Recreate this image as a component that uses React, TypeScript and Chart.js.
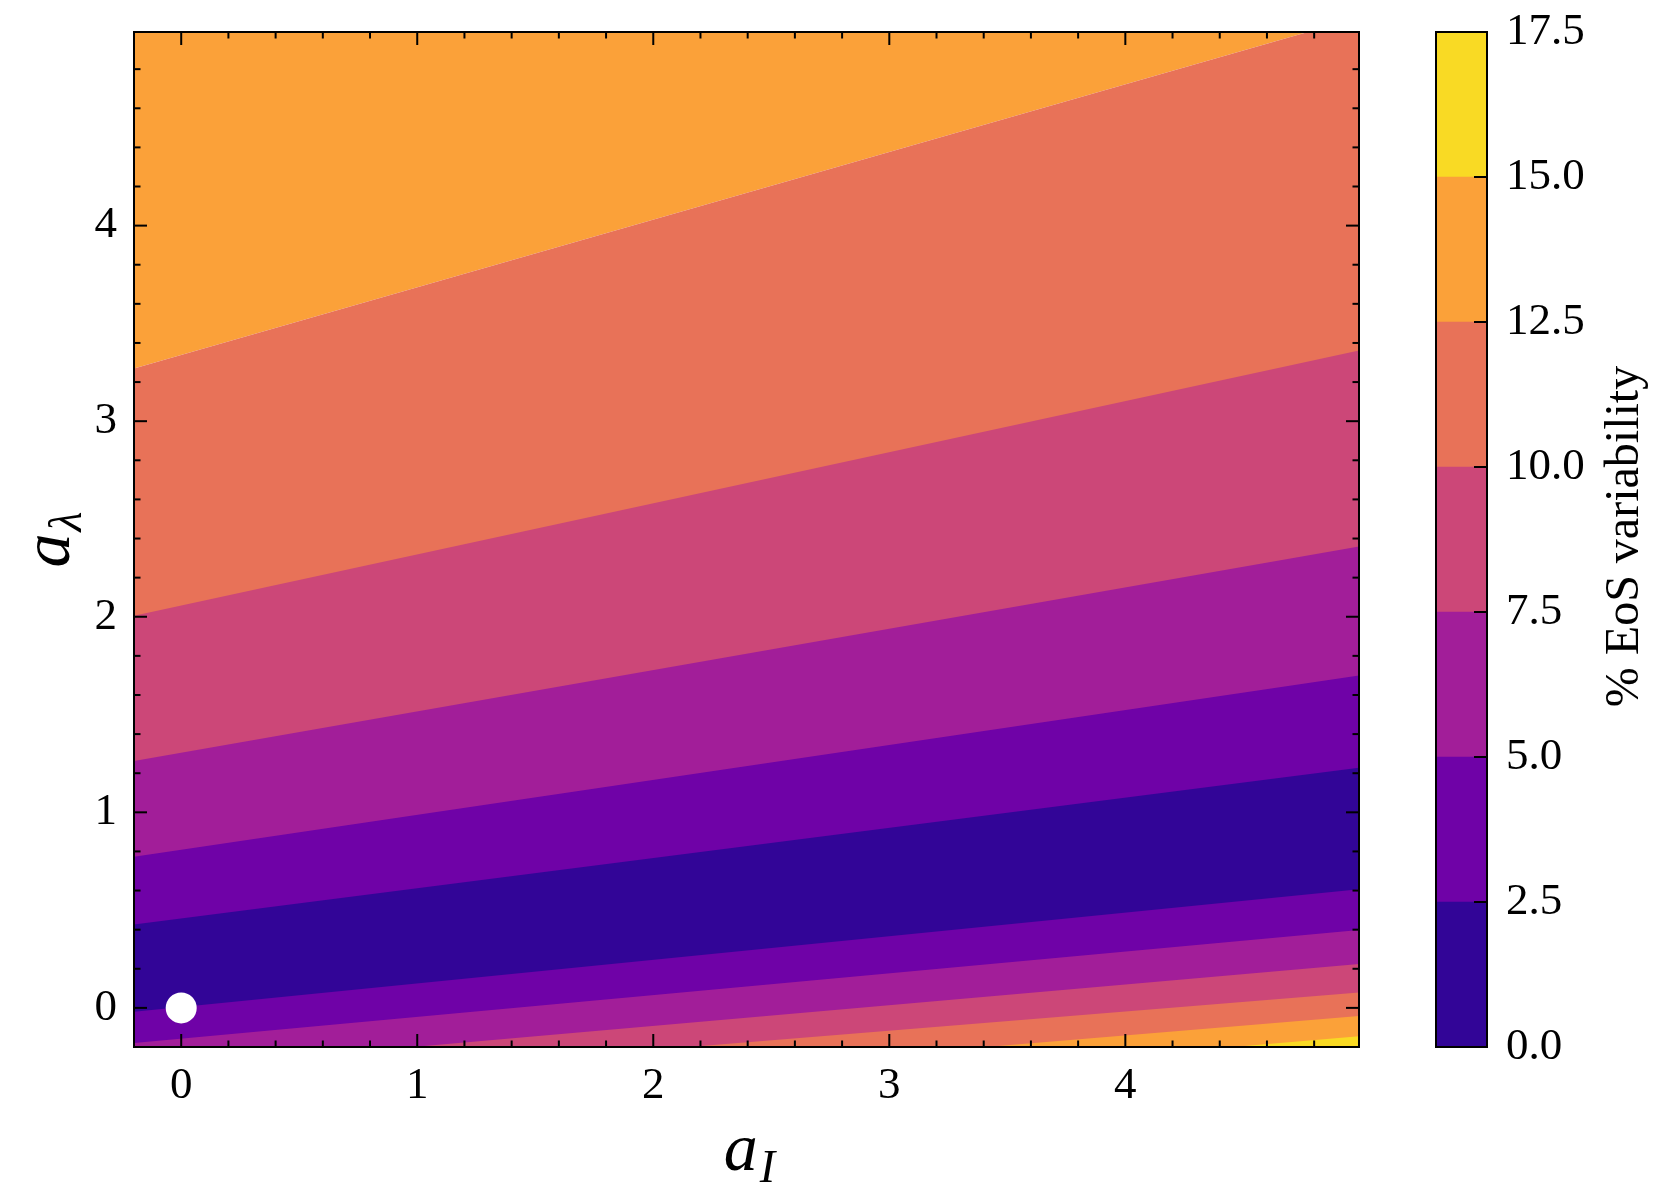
import { useEffect, useRef } from 'react';
import { Chart, registerables } from 'chart.js';

Chart.register(...registerables);

// ---- data ----
// contour boundary lines, evaluated at the two ends of the a_I range
const aI = [-0.2, 4.99];
const upper125 = [3.269, 5.065];
const upper10 = [2.005, 3.361];
const upper75 = [1.263, 2.359];
const upper5 = [0.773, 1.699];
const upper25 = [0.427, 1.228];
const lower25 = [-0.02, 0.607];
const lower5 = [-0.179, 0.398];
const lower75 = [-0.325, 0.224];
const lower10 = [-0.431, 0.079];
const lower125 = [-0.561, -0.042];
const lower15 = [-0.679, -0.145];

// contour levels and colours (plasma, sampled at band midpoints)
const levels = [0, 2.5, 5, 7.5, 10, 12.5, 15, 17.5];
const bandColors = ['#320597', '#6f02a7', '#a21e99', '#cc4778', '#e87258', '#fba139', '#f9da24'];

// fiducial point
const pointAI = [0];
const pointAL = [0];

// ticks
const majorTicks = [0, 1, 2, 3, 4];
const minorTicks = [-0.2, 0.2, 0.4, 0.6, 0.8, 1.2, 1.4, 1.6, 1.8, 2.2, 2.4, 2.6, 2.8, 3.2, 3.4, 3.6, 3.8, 4.2, 4.4, 4.6, 4.8];
const xRange = [-0.2, 4.99];
const yRange = [-0.2, 4.99];

const SERIF = '"Liberation Serif", "Times New Roman", serif';

// painter's order: each layer fills from its boundary line to the bottom (or top)
const layers: { line: number[]; band: number; fill: string }[] = [
  { line: upper125, band: 5, fill: 'end' },
  { line: upper125, band: 4, fill: 'start' },
  { line: upper10, band: 3, fill: 'start' },
  { line: upper75, band: 2, fill: 'start' },
  { line: upper5, band: 1, fill: 'start' },
  { line: upper25, band: 0, fill: 'start' },
  { line: lower25, band: 1, fill: 'start' },
  { line: lower5, band: 2, fill: 'start' },
  { line: lower75, band: 3, fill: 'start' },
  { line: lower10, band: 4, fill: 'start' },
  { line: lower125, band: 5, fill: 'start' },
  { line: lower15, band: 6, fill: 'start' },
];

function strokeLine(ctx: CanvasRenderingContext2D, x1: number, y1: number, x2: number, y2: number) {
  ctx.beginPath();
  ctx.moveTo(x1, y1);
  ctx.lineTo(x2, y2);
  ctx.stroke();
}

function drawMath(ctx: CanvasRenderingContext2D, base: string, sub: string, cx: number, baseline: number, big: number, small: number, drop: number) {
  ctx.font = `italic ${big}px ${SERIF}`;
  const wa = ctx.measureText(base).width;
  ctx.font = `italic ${small}px ${SERIF}`;
  const ws = ctx.measureText(sub).width;
  const total = wa + ws + 2;
  const x0 = cx - total / 2;
  ctx.textAlign = 'left';
  ctx.textBaseline = 'alphabetic';
  ctx.font = `italic ${big}px ${SERIF}`;
  ctx.fillText(base, x0, baseline);
  ctx.font = `italic ${small}px ${SERIF}`;
  ctx.fillText(sub, x0 + wa + 2, baseline + drop);
}

const MAJOR = 13;
const MINOR = 6.5;

const noPad = (s: any) => {
  s.paddingTop = 0;
  s.paddingBottom = 0;
  s.paddingLeft = 0;
  s.paddingRight = 0;
};

const framePlugin = {
  id: 'frameTicks',
  afterDraw(chart: any) {
    const { ctx, chartArea: a, scales } = chart;
    const x = scales.x;
    const y = scales.y;
    ctx.save();
    ctx.strokeStyle = '#000';
    ctx.lineWidth = 2;
    const xt = (v: number, len: number) => {
      const p = x.getPixelForValue(v);
      strokeLine(ctx, p, a.bottom, p, a.bottom - len);
      strokeLine(ctx, p, a.top, p, a.top + len);
    };
    const yt = (v: number, len: number) => {
      const p = y.getPixelForValue(v);
      strokeLine(ctx, a.left, p, a.left + len, p);
      strokeLine(ctx, a.right, p, a.right - len, p);
    };
    majorTicks.forEach((v) => { xt(v, MAJOR); yt(v, MAJOR); });
    minorTicks.forEach((v) => { xt(v, MINOR); yt(v, MINOR); });
    ctx.strokeRect(a.left, a.top, a.right - a.left, a.bottom - a.top);

    ctx.fillStyle = '#000';
    // x title a_I
    drawMath(ctx, 'a', 'I', (a.left + a.right) / 2 + 3, 1170, 68, 46, 12);
    // y title a_lambda
    ctx.save();
    ctx.translate(69, (a.top + a.bottom) / 2);
    ctx.rotate(-Math.PI / 2);
    drawMath(ctx, 'a', 'λ', 0, 0, 68, 46, 12);
    ctx.restore();
    ctx.restore();
  },
};

const colorbarPlugin = {
  id: 'cbFrame',
  afterDraw(chart: any) {
    const { ctx, chartArea: a, scales } = chart;
    const y = scales.y;
    ctx.save();
    ctx.strokeStyle = '#000';
    ctx.lineWidth = 2;
    levels.forEach((v) => {
      const p = y.getPixelForValue(v);
      strokeLine(ctx, a.right, p, a.right - MAJOR, p);
    });
    ctx.strokeRect(a.left, a.top, a.right - a.left, a.bottom - a.top);
    ctx.fillStyle = '#000';
    ctx.font = `48px ${SERIF}`;
    ctx.textAlign = 'center';
    ctx.textBaseline = 'alphabetic';
    ctx.translate(238, (a.top + a.bottom) / 2 - 3);
    ctx.rotate(-Math.PI / 2);
    ctx.fillText('% EoS variability', 0, 0);
    ctx.restore();
  },
};

export default function App() {
  const mainRef = useRef<HTMLCanvasElement>(null);
  const cbRef = useRef<HTMLCanvasElement>(null);

  useEffect(() => {
    const datasets: any[] = layers.map((l, i) => ({
      type: 'line',
      data: aI.map((xv, k) => ({ x: xv, y: l.line[k] })),
      borderWidth: 0,
      borderColor: 'rgba(0,0,0,0)',
      pointRadius: 0,
      tension: 0,
      fill: l.fill,
      backgroundColor: bandColors[l.band],
      order: 100 - i,
    }));
    datasets.push({
      type: 'line',
      data: pointAI.map((xv, k) => ({ x: xv, y: pointAL[k] })),
      showLine: false,
      pointRadius: 15.5,
      pointBackgroundColor: '#ffffff',
      pointBorderWidth: 0,
      pointBorderColor: '#ffffff',
      fill: false,
      order: 0,
    });

    const main = new Chart(mainRef.current!, {
      type: 'line',
      data: { datasets },
      options: {
        responsive: false,
        animation: false,
        events: [],
        layout: { padding: { left: 0, right: 41, top: 32, bottom: 0 } },
        plugins: { legend: { display: false }, tooltip: { enabled: false }, filler: { propagate: false } },
        scales: {
          x: {
            type: 'linear',
            min: xRange[0],
            max: xRange[1],
            grid: { display: false, drawTicks: false },
            border: { display: false },
            afterBuildTicks: (s: any) => { s.ticks = majorTicks.map((v) => ({ value: v })); },
            afterFit: (s: any) => { s.height = 152; noPad(s); },
            ticks: { padding: 12, color: '#000', font: { family: SERIF, size: 45 }, maxRotation: 0, callback: (v: any) => String(v) },
          },
          y: {
            type: 'linear',
            min: yRange[0],
            max: yRange[1],
            grid: { display: false, drawTicks: false },
            border: { display: false },
            afterBuildTicks: (s: any) => { s.ticks = majorTicks.map((v) => ({ value: v })); },
            afterFit: (s: any) => { s.width = 134; noPad(s); },
            ticks: { padding: 17, color: '#000', font: { family: SERIF, size: 45 }, callback: (v: any) => String(v) },
          },
        },
      },
      plugins: [framePlugin],
    });

    const cbDatasets = bandColors.map((c, i) => ({
      data: [[levels[i], levels[i + 1]]],
      backgroundColor: c,
      borderWidth: 0,
      barPercentage: 1,
      categoryPercentage: 1,
      grouped: false,
    }));

    const cb = new Chart(cbRef.current!, {
      type: 'bar',
      data: { labels: [''], datasets: cbDatasets as any },
      options: {
        responsive: false,
        animation: false,
        events: [],
        layout: { padding: { left: 36, right: 0, top: 32, bottom: 152 } },
        plugins: { legend: { display: false }, tooltip: { enabled: false } },
        scales: {
          x: { display: false },
          y: {
            position: 'right',
            min: levels[0],
            max: levels[levels.length - 1],
            grid: { display: false, drawTicks: false },
            border: { display: false },
            afterBuildTicks: (s: any) => { s.ticks = levels.map((v) => ({ value: v })); },
            afterFit: (s: any) => { s.width = 175; noPad(s); },
            ticks: { padding: 19, color: '#000', font: { family: SERIF, size: 45 }, callback: (v: any) => Number(v).toFixed(1) },
          },
        },
      },
      plugins: [colorbarPlugin],
    });

    return () => {
      main.destroy();
      cb.destroy();
    };
  }, []);

  return (
    <div style={{ position: 'fixed', left: 0, top: 0, width: 1662, height: 1199, background: '#fff', overflow: 'hidden' }}>
      <canvas ref={mainRef} width={1400} height={1199} style={{ position: 'absolute', left: 0, top: 0, width: 1400, height: 1199 }} />
      <canvas ref={cbRef} width={262} height={1199} style={{ position: 'absolute', left: 1400, top: 0, width: 262, height: 1199 }} />
    </div>
  );
}
